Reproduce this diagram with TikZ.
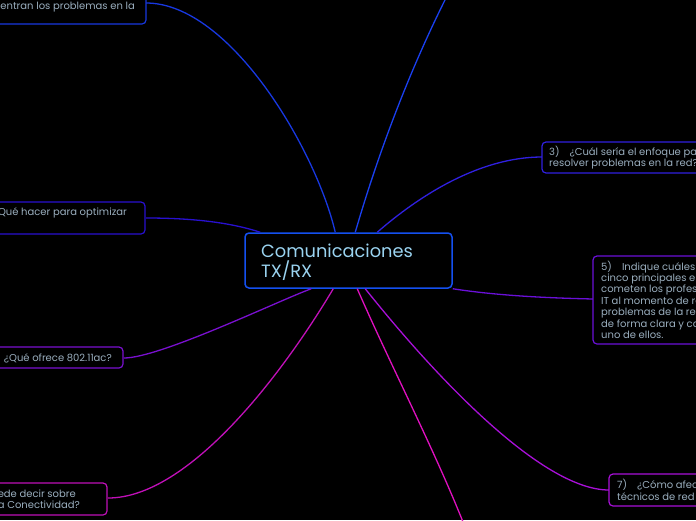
\documentclass[tikz,border=0pt]{standalone}
\usepackage{fontspec}
\setmainfont{Poppins}
\usetikzlibrary{fit}
\definecolor{cbord}{HTML}{1450F0}
\definecolor{ctext}{HTML}{9AD3F0}
\definecolor{ntext}{HTML}{9AAEBE}
\definecolor{col1}{HTML}{1838E0}
\definecolor{col2}{HTML}{1A40F0}
\definecolor{col3}{HTML}{3020E0}
\definecolor{col4}{HTML}{2810D0}
\definecolor{col5}{HTML}{6A10D8}
\definecolor{col6}{HTML}{7A10D0}
\definecolor{col7}{HTML}{A810D8}
\definecolor{col8}{HTML}{E010C0}
\definecolor{col9}{HTML}{C010B8}
\tikzset{
  box/.style={draw=#1, rounded corners=4pt, line width=1.2pt, fill=black, inner sep=0pt},
  conn/.style={draw=#1, line width=1.3pt},
  txt/.style={text=ntext, font=\fontsize{10}{12}\selectfont, inner sep=0pt},
  ctxt/.style={text=ctext, font=\fontsize{17.8}{20}\selectfont, inner sep=0pt}
}
\begin{document}
\begin{tikzpicture}[x=1pt,y=-1pt]
\useasboundingbox (0,0) rectangle (696,520);
\fill[black] (0,0) rectangle (696,520);
\clip (0,0) rectangle (696,520);

% central node
\node[box=cbord, line width=1.5pt, fit={(245,233) (452,288)}] (c) {};
\node[ctxt, anchor=base west] (ct1) at (261,257) {Comunicaciones};
\node[ctxt, anchor=base west] (ct2) at (261,277) {TX/RX};

% anchor points on central box
\coordinate (e1) at ([xshift=91pt]c.north west);
\coordinate (e2) at ([xshift=111pt]c.north west);
\coordinate (e3) at ([xshift=133pt]c.north west);
\coordinate (e4) at ([xshift=16pt]c.north west);
\coordinate (e5) at (c.south east);
\coordinate (e6) at ([xshift=67pt]c.south west);
\coordinate (e9) at ([xshift=89pt]c.south west);
\coordinate (e8) at ([xshift=113pt]c.south west);
\coordinate (e7) at ([xshift=121pt]c.south west);
\coordinate (o2) at (445,0);
\coordinate (o8) at (472,545);

% connectors
\draw[conn=col1] (e1) .. controls (316,150) and (230,3) .. (146,3);
\draw[conn=col2] (e2) .. controls (385,130) and (420,50) .. (o2);
\draw[conn=col3] (e3) .. controls (420,195) and (480,157) .. (542,157);
\draw[conn=col4] (e4) .. controls (235,224) and (200,218) .. (146,218);
\draw[conn=col5] (e5) .. controls (500,296) and (550,298) .. (593,299);
\draw[conn=col6] (e6) .. controls (280,300) and (160,358) .. (124,358);
\draw[conn=col7] (e7) .. controls (430,370) and (540,490) .. (609,490);
\draw[conn=col8] (e8) .. controls (395,375) and (440,460) .. (o8);
\draw[conn=col9] (e9) .. controls (285,370) and (190,498) .. (108,498);

% branch boxes
\node[box=col1, fit={(-120,-17) (146,24)}] (b1) {};
\node[box=col3, fit={(542,142) (780,173)}] (b3) {};
\node[box=col4, fit={(-120,202) (145,234)}] (b4) {};
\node[box=col5, fit={(593,256) (800,344)}] (b5) {};
\node[box=col6, fit={(-20,347) (123,368)}] (b6) {};
\node[box=col7, fit={(609,474) (800,506)}] (b7) {};
\node[box=col9, fit={(-120,483) (107,515)}] (b9) {};

% texts
\node[txt, anchor=base east] (t1) at (135,9) {¿Dónde se encuentran los problemas en la};
\node[txt, anchor=base east] (t4) at (127,215) {¿Qué hacer para optimizar};
\node[txt, anchor=base east] (t6) at (112,361) {¿Qué ofrece 802.11ac?};
\node[txt, anchor=base east] (t9a) at (76,497) {¿Qué se puede decir sobre};
\node[txt, anchor=base east] (t9b) at (80,508) {la Conectividad?};

\node[txt, anchor=base west] (t3a) at (549,155) {3)\quad ¿Cuál sería el enfoque para};
\node[txt, anchor=base west] (t3b) at (549,166) {resolver problemas en la red?};

\node[txt, anchor=base west] (t5a) at (601,270) {5)\quad Indique cuáles son los};
\node[txt, anchor=base west] (t5b) at (601,281.4) {cinco principales errores que};
\node[txt, anchor=base west] (t5c) at (601,292.8) {cometen los profesionales de};
\node[txt, anchor=base west] (t5d) at (601,304.2) {IT al momento de resolver};
\node[txt, anchor=base west] (t5e) at (601,315.6) {problemas de la red. Explique};
\node[txt, anchor=base west] (t5f) at (601,327) {de forma clara y con ejemplos cada};
\node[txt, anchor=base west] (t5g) at (601,338.4) {uno de ellos.};

\node[txt, anchor=base west] (t7a) at (617,488) {7)\quad ¿Cómo afecta};
\node[txt, anchor=base west] (t7b) at (617,500) {técnicos de red};
\end{tikzpicture}
\end{document}
